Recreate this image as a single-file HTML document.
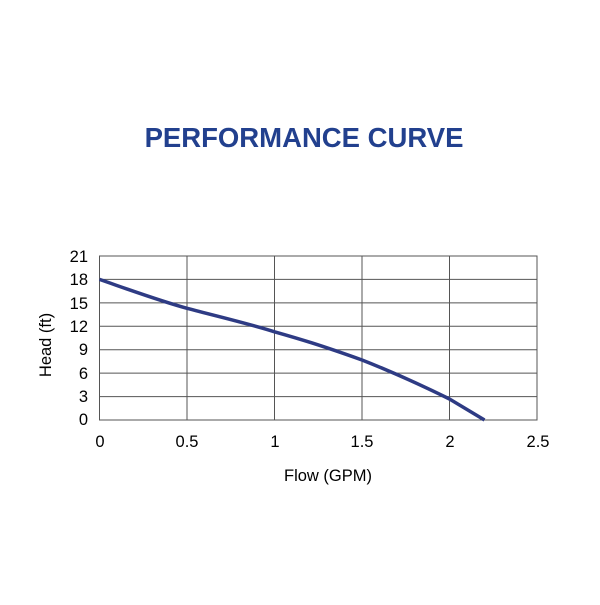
<!DOCTYPE html>
<html><head><meta charset="utf-8"><style>
html,body{margin:0;padding:0;background:#fff;}
</style></head><body>
<svg width="600" height="600" xmlns="http://www.w3.org/2000/svg" font-family="Liberation Sans, Arial, sans-serif">
<rect width="600" height="600" fill="#fff"/>
<text x="304" y="147" text-anchor="middle" font-size="27.5" font-weight="bold" fill="#22408e">PERFORMANCE CURVE</text>
<g stroke="#555" stroke-width="1" fill="none">
<rect x="99.5" y="256" width="437.5" height="164"/>
<line x1="187" y1="256" x2="187" y2="420"/>
<line x1="274.5" y1="256" x2="274.5" y2="420"/>
<line x1="362" y1="256" x2="362" y2="420"/>
<line x1="449.5" y1="256" x2="449.5" y2="420"/>
<line x1="99.5" y1="279.4" x2="537" y2="279.4"/>
<line x1="99.5" y1="302.9" x2="537" y2="302.9"/>
<line x1="99.5" y1="326.3" x2="537" y2="326.3"/>
<line x1="99.5" y1="349.7" x2="537" y2="349.7"/>
<line x1="99.5" y1="373.1" x2="537" y2="373.1"/>
<line x1="99.5" y1="396.6" x2="537" y2="396.6"/>
</g>
<path d="M99.5,279.4 C130,290 160,301 187,308.3 C220,317 250,324 274.5,331.8 C300,339 320,345 362,360 C390,371 415,382 449.5,399 L484.5,420" stroke="#2e3b84" stroke-width="3.5" fill="none"/>
<g font-size="16.5" fill="#000" text-anchor="end">
<text x="88" y="262">21</text><text x="88" y="285">18</text><text x="88" y="309">15</text>
<text x="88" y="332">12</text><text x="88" y="355">9</text><text x="88" y="379">6</text>
<text x="88" y="402">3</text><text x="88" y="425">0</text>
</g>
<g font-size="16.5" fill="#000" text-anchor="middle">
<text x="100" y="447">0</text><text x="187" y="447">0.5</text><text x="275" y="447">1</text>
<text x="362" y="447">1.5</text><text x="450" y="447">2</text><text x="538" y="447">2.5</text>
<text x="328" y="481">Flow (GPM)</text>
</g>
<text x="51" y="345" font-size="16.5" text-anchor="middle" transform="rotate(-90 51 345)">Head (ft)</text>
</svg>
</body></html>
